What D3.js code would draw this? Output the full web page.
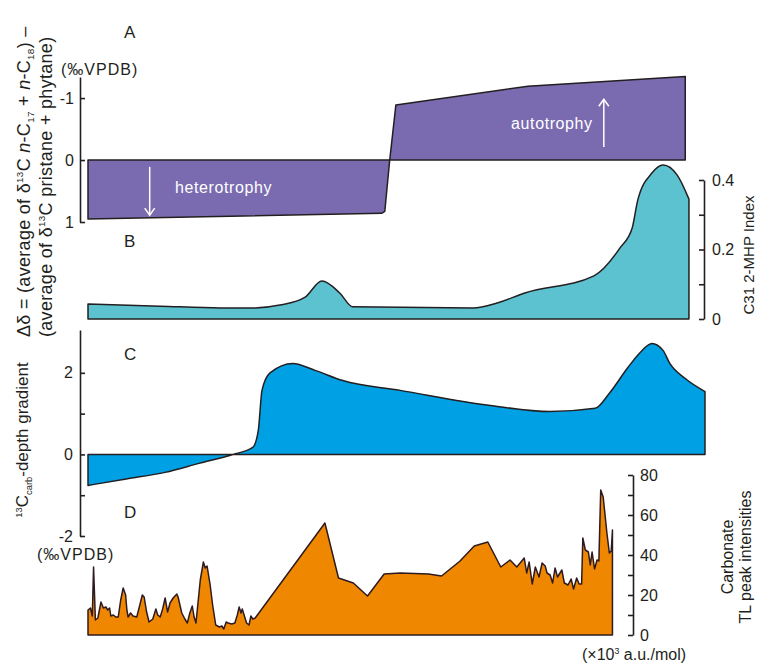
<!DOCTYPE html>
<html>
<head>
<meta charset="utf-8">
<script src="https://cdn.jsdelivr.net/npm/d3@7"></script>
<style>
  body { margin: 0; background: #fff; }
  svg { font-family: Arial, "Liberation Sans", sans-serif; }
</style>
</head>
<body>
<svg id="chart" width="759" height="669"></svg>
<script>
// relative stratigraphic position, 0..100, shared by all four panels
var aPos = [0, 47.6, 48.1, 48.9, 49.9, 71.3, 96.8];
var aVal = [0.95, 0.86, 0.83, 0, -0.89, -1.19, -1.35];

var bPos = [0, 11.7, 21.4, 27.1, 31.1, 35.2, 37.9, 40.8, 42.9, 62.4, 66.3, 70.8, 82.0, 86.2, 88.2, 89.1, 91.4, 93.2, 95.5, 97.4];
var bVal = [0.043, 0.037, 0.032, 0.032, 0.040, 0.063, 0.109, 0.075, 0.035, 0.032, 0.046, 0.075, 0.124, 0.204, 0.262, 0.342, 0.420, 0.443, 0.414, 0.345];

var cPos = [0, 6.2, 12.5, 18.0, 23.5, 26.7, 27.6, 28.2, 29.5, 33.2, 36.8, 41.3, 50.6, 65.2, 74.9, 82.2, 84.6, 87.5, 89.5, 91.4, 93.2, 94.3, 96.8, 100];
var cVal = [-0.76, -0.6, -0.44, -0.22, 0, 0.17, 0.59, 1.57, 2.0, 2.23, 2.06, 1.81, 1.57, 1.2, 1.05, 1.13, 1.52, 2.13, 2.5, 2.72, 2.55, 2.23, 1.86, 1.54];

var dPos = [0, 0.4, 0.7, 0.9, 1.2, 1.6, 2.1, 2.5, 2.9, 3.2, 3.5, 3.7, 4.1, 4.5, 4.9, 5.3, 5.7, 6.1, 6.3, 6.5,
  6.9, 7.3, 7.9, 8.4, 8.8, 9.1, 9.5, 9.9, 10.5, 11.0, 11.3, 11.7, 12.1, 12.5, 12.9, 13.3, 13.8, 14.4, 14.6, 15.2,
  15.7, 16.1, 16.5, 16.9, 17.2, 17.5, 18.2, 18.7, 19.0, 19.3, 19.8, 20.2, 20.7, 21.3, 21.7, 22.0, 22.4, 22.7, 23.3, 23.8,
  24.2, 24.5, 24.8, 25.0, 25.3, 25.7, 26.1, 26.4, 26.7, 27.1, 38.4, 40.6, 43.0, 45.3, 48.0, 50.6, 55.2, 57.3, 60.3, 62.6,
  64.8, 66.9, 68.4, 69.5, 70.7, 71.1, 71.5, 72.0, 72.5, 73.1, 73.6, 74.1, 74.4, 74.9, 75.3, 75.7, 76.1, 76.8, 77.2, 77.8,
  78.3, 78.7, 79.2, 79.6, 80.0, 80.2, 80.6, 81.1, 81.4, 81.7, 82.1, 82.5, 82.8, 83.1, 83.5, 84.1, 84.5, 84.8, 85.0];
var dVal = [12.5, 13.5, 9.5, 34, 7.5, 8.5, 16.5, 13.5, 14, 12.5, 13.5, 9.5, 10, 9, 9, 17.5, 23.5, 20, 12.5, 9,
  11, 9.5, 9, 15, 20, 19, 11.5, 6.5, 8, 13, 10, 9, 13, 18.5, 11.5, 16, 18.5, 20.5, 19, 11,
  8, 6, 11, 14.5, 9, 6, 27.5, 36.5, 33.5, 34.5, 25, 15, 5, 4, 4.5, 3, 6.5, 6, 5.5, 6,
  10, 14, 11, 13, 10, 6, 5, 9.5, 8, 8.5, 56, 28.5, 26, 19.5, 30.5, 31, 30.5, 29.5, 37, 44.5,
  46.5, 34, 37.5, 34, 38.5, 31, 36.5, 25.5, 34, 29, 36, 34.5, 31, 30, 26, 33.5, 29, 32.5, 26, 25,
  28, 23, 28.5, 25.5, 25.5, 48.5, 42.5, 41.5, 35, 41.5, 33, 37.5, 37, 72.5, 69, 51, 41, 42, 52.5];

var aTicks = [-1, 0, 1];
var bTicks = [0, 0.1, 0.2, 0.3, 0.4];
var cTicks = [-2, -1, 0, 1, 2];
var dTicks = [0, 10, 20, 30, 40, 50, 60, 70, 80];

var ink = "#231f20";
var svg = d3.select("#chart");

var x = d3.scaleLinear().domain([0, 100]).range([88, 705]);
var yA = d3.scaleLinear().domain([-1.34, 1]).range([77, 222]);
var yB = d3.scaleLinear().domain([0, 0.4]).range([319, 180]);
var yC = d3.scaleLinear().domain([-2, 3.05]).range([536, 330]);
var yD = d3.scaleLinear().domain([0, 80]).range([635, 475]);

function drawArea(pos, val, y, curve, fill, stroke) {
  var rows = pos.map(function(p, i) { return {p: p, v: val[i]}; });
  var area = d3.area()
    .x(function(d) { return x(d.p); })
    .y0(y(0))
    .y1(function(d) { return y(d.v); })
    .curve(curve);
  svg.append("path").datum(rows)
    .attr("d", area)
    .attr("fill", fill)
    .attr("stroke", stroke)
    .attr("stroke-width", 1.5)
    .attr("stroke-linejoin", "round");
}

drawArea(aPos, aVal, yA, d3.curveLinear, "#7a6bb0", ink);
drawArea(bPos, bVal, yB, d3.curveMonotoneX, "#5dc2d0", ink);
drawArea(cPos, cVal, yC, d3.curveMonotoneX, "#00a0e5", ink);
drawArea(dPos, dVal, yD, d3.curveLinear, "#ef8800", "#2e1a1f");

function styleAxis(g) {
  g.selectAll("path, line").attr("stroke", ink).attr("stroke-width", 1.6);
  g.selectAll("text").attr("fill", ink).style("font-size", "16px")
    .style("font-family", "Arial, 'Liberation Sans', sans-serif");
}

svg.append("g").attr("transform", "translate(80,0)")
  .call(d3.axisLeft(yA).tickValues(aTicks).tickSizeInner(-5).tickSizeOuter(0).tickPadding(6)
    .tickFormat(function(d) { return String(d); }))
  .call(styleAxis);

svg.append("g").attr("transform", "translate(704,0)")
  .call(d3.axisRight(yB).tickValues(bTicks).tickSizeInner(-5).tickSizeOuter(0).tickPadding(8)
    .tickFormat(function(d) { return (Math.round(d * 10) % 2 === 0) ? String(d) : ""; }))
  .call(styleAxis);

svg.append("g").attr("transform", "translate(80,0)")
  .call(d3.axisLeft(yC).tickValues(cTicks).tickSizeInner(-5).tickSizeOuter(0).tickPadding(7)
    .tickFormat(function(d) { return d % 2 === 0 ? String(d) : ""; }))
  .call(styleAxis);

svg.append("g").attr("transform", "translate(633,0)")
  .call(d3.axisRight(yD).tickValues(dTicks).tickSizeInner(-5).tickSizeOuter(0).tickPadding(7)
    .tickFormat(function(d) { return d % 20 === 0 ? String(d) : ""; }))
  .call(styleAxis);

// panel letters
[["A", 38], ["B", 247], ["C", 360], ["D", 518]].forEach(function(l) {
  svg.append("text").attr("x", 124).attr("y", l[1]).attr("fill", ink)
    .style("font-size", "17px").text(l[0]);
});

svg.append("text").attr("x", 61).attr("y", 75).attr("fill", ink)
  .style("font-size", "16px").style("letter-spacing", "1px").text("(‰VPDB)");
svg.append("text").attr("x", 37).attr("y", 560).attr("fill", ink)
  .style("font-size", "16px").style("letter-spacing", "1px").text("(‰VPDB)");

// rich text helper: parts = [[text, kind]] kind: "", "sup", "sub", "i"
function rich(t, parts, size) {
  var shift = 0;
  parts.forEach(function(p) {
    var ts = t.append("tspan").text(p[0]);
    var target = 0;
    if (p[1] === "sup") target = -size * 0.38;
    if (p[1] === "sub") target = size * 0.22;
    ts.attr("dy", target - shift);
    shift = target;
    if (p[1] === "sup" || p[1] === "sub") ts.style("font-size", (size * 0.55) + "px");
    if (p[1] === "i") ts.style("font-style", "italic");
  });
}

var t1 = svg.append("text").attr("transform", "translate(30,337) rotate(-90)")
  .attr("fill", ink).style("font-size", "18px").style("letter-spacing", "0.3px");
rich(t1, [["Δδ = (average of δ", ""], ["13", "sup"], ["C ", ""], ["n", "i"], ["-C", ""], ["17", "sub"],
  [" + ", ""], ["n", "i"], ["-C", ""], ["18", "sub"], [") –", ""]], 18);

var t2 = svg.append("text").attr("transform", "translate(52,337) rotate(-90)")
  .attr("fill", ink).style("font-size", "18px").style("letter-spacing", "0.3px");
rich(t2, [["(average of δ", ""], ["13", "sup"], ["C pristane + phytane)", ""]], 18);

var t3 = svg.append("text").attr("transform", "translate(28,440) rotate(-90)")
  .attr("text-anchor", "middle").attr("fill", ink).style("font-size", "17px");
rich(t3, [["13", "sup"], ["C", ""], ["carb", "sub"], ["-depth gradient", ""]], 17);

svg.append("text").attr("transform", "translate(754,255) rotate(-90)")
  .attr("text-anchor", "middle").attr("fill", ink).style("font-size", "15px")
  .text("C31 2-MHP Index");

svg.append("text").attr("transform", "translate(733,557) rotate(-90)")
  .attr("text-anchor", "middle").attr("fill", ink).style("font-size", "16px").text("Carbonate");
svg.append("text").attr("transform", "translate(751,557) rotate(-90)")
  .attr("text-anchor", "middle").attr("fill", ink).style("font-size", "16px").text("TL peak intensities");

var t4 = svg.append("text").attr("x", 582).attr("y", 660).attr("fill", ink).style("font-size", "16px");
rich(t4, [["(×10", ""], ["3", "sup"], [" a.u./mol)", ""]], 16);

// annotations inside panel A
function arrow(px, v0, v1) {
  var g = svg.append("g").attr("stroke", "#fff").attr("stroke-width", 1.5).attr("fill", "none");
  var dir = yA(v1) > yA(v0) ? 1 : -1;
  g.append("line").attr("x1", x(px)).attr("x2", x(px)).attr("y1", yA(v0)).attr("y2", yA(v1));
  g.append("path").attr("d", "M" + (x(px) - 5) + "," + (yA(v1) - dir * 7) +
    "L" + x(px) + "," + yA(v1) + "L" + (x(px) + 5) + "," + (yA(v1) - dir * 7));
}
arrow(10.0, 0.11, 0.89);
arrow(83.6, -0.21, -0.98);

svg.append("text").attr("x", x(14.1)).attr("y", yA(0.53)).attr("fill", "#fff")
  .style("font-size", "16px").style("letter-spacing", "0.6px").text("heterotrophy");
svg.append("text").attr("x", x(81.8)).attr("y", yA(-0.5)).attr("text-anchor", "end")
  .attr("fill", "#fff").style("font-size", "16px").style("letter-spacing", "0.6px").text("autotrophy");
</script>
</body>
</html>
